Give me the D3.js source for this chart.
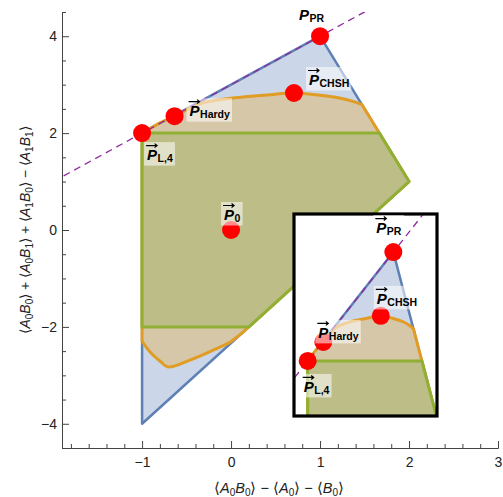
<!DOCTYPE html>
<html>
<head>
<meta charset="utf-8">
<script src="https://cdn.jsdelivr.net/npm/d3@7/dist/d3.min.js"></script>
<style>
  body { margin: 0; background: #fff; }
  svg { display: block; }
  text { font-family: "Liberation Sans", Arial, sans-serif; }
</style>
</head>
<body>
<svg width="503" height="497"></svg>
<script>
// no-signalling polytope corners
const nsX = [-1, -1, 1, 2];
const nsY = [-4, 2, 4, 1];
// local polytope corners
const locX = [-1, -1, 1.667, 2, 0.2];
const locY = [-2, 2, 2, 1, -2];
// quantum set boundary: curved top (left -> right)
const qTopX = [-1, -0.82, -0.635, -0.343, 0, 0.365, 0.707, 1.0, 1.23, 1.38, 1.47];
const qTopY = [2, 2.19, 2.35, 2.61, 2.72, 2.78, 2.828, 2.78, 2.72, 2.65, 2.59];
// straight stretch on the right
const qEdgeX = [2, 0.2];
const qEdgeY = [1, -2];
// curved bottom (right -> left)
const qBotX = [0.2, 0, -0.19, -0.455, -0.707, -0.79, -0.9, -1];
const qBotY = [-2, -2.3, -2.47, -2.68, -2.828, -2.72, -2.54, -2.3];
// dashed line through P_L,4 and P_PR
const dashX = [-2, 3];
const dashY = [1, 6];
// marked points
const ptNames = ["L,4", "Hardy", "0", "CHSH", "PR"];
const ptX = [-1, -0.635, 0, 0.707, 1];
const ptY = [2, 2.35, 0, 2.828, 4];
// ticks
const xTicks = [-1, 0, 1, 2, 3];
const yTicks = [-4, -2, 0, 2, 4];

const BLUE = "#5e81b5", ORANGE = "#e19c24", GREEN = "#8fb032";

const svg = d3.select("svg");

const x = d3.scaleLinear().domain([-1.9, 3]).range([62, 498]);
const y = d3.scaleLinear().domain([-4.5, 4.5]).range([448, 12]);

// inset zoom window
const xi = d3.scaleLinear().domain([-1.32, 2.02]).range([294, 437]);
const yi = d3.scaleLinear().domain([0.988, 4.70]).range([416, 214]);

// ----- axes -----
function styleAxis(g) {
  g.select(".domain").attr("stroke", "#444").attr("stroke-width", 1);
  g.selectAll(".tick line").attr("stroke", "#444");
  g.selectAll(".tick text").attr("fill", "#222").attr("font-size", 14)
    .attr("font-family", "Liberation Sans, Arial, sans-serif");
}

const minorX = d3.range(-18, 31, 2).map(d => d / 10).filter(d => !xTicks.includes(d));
const minorY = d3.range(-9, 10).map(d => d / 2).filter(d => !yTicks.includes(d));

svg.append("g").attr("transform", "translate(0,448)")
  .call(d3.axisBottom(x).tickValues(minorX).tickSize(-4).tickSizeOuter(0).tickFormat(""))
  .call(styleAxis);
svg.append("g").attr("transform", "translate(0,448)")
  .call(d3.axisBottom(x).tickValues(xTicks).tickSize(-7).tickSizeOuter(0).tickPadding(9).tickFormat(d3.format("d")))
  .call(styleAxis);
svg.append("g").attr("transform", "translate(62,0)")
  .call(d3.axisLeft(y).tickValues(minorY).tickSize(-4).tickSizeOuter(0).tickFormat(""))
  .call(styleAxis);
svg.append("g").attr("transform", "translate(62,0)")
  .call(d3.axisLeft(y).tickValues(yTicks).tickSize(-7).tickSizeOuter(0).tickPadding(5).tickFormat(d3.format("d")))
  .call(styleAxis);

// rich text helper: parts of [text, kind] where kind is "", "i" or "sub"
function mathText(sel, parts) {
  let shifted = false;
  parts.forEach(([t, k]) => {
    const s = sel.append("tspan").text(t);
    if (k === "i") s.attr("font-style", "italic");
    if (k === "sub") {
      s.attr("font-size", 10).attr("dy", shifted ? 0 : 3);
      shifted = true;
    } else if (shifted) {
      s.attr("dy", -3);
      shifted = false;
    }
  });
}

const ab = (a, i, b, j) => [["⟨", ""], [a, "i"], [i, "sub"], [b, "i"], [j, "sub"], ["⟩", ""]];

const xLab = svg.append("text").attr("x", 279).attr("y", 493)
  .attr("text-anchor", "middle").attr("font-size", 14.5).attr("fill", "#222");
mathText(xLab, [...ab("A", "0", "B", "0"), [" − ⟨", ""], ["A", "i"], ["0", "sub"], ["⟩ − ⟨", ""], ["B", "i"], ["0", "sub"], ["⟩", ""]]);

const yLab = svg.append("text").attr("transform", "translate(30,230) rotate(-90)")
  .attr("text-anchor", "middle").attr("font-size", 14).attr("fill", "#222");
mathText(yLab, [...ab("A", "0", "B", "0"), [" + ", ""], ...ab("A", "0", "B", "1"), [" + ", ""],
  ...ab("A", "1", "B", "0"), [" − ", ""], ...ab("A", "1", "B", "1")]);

// ----- scene -----
function quantumPath(sx, sy) {
  const ln = d3.line().x(d => sx(d[0])).y(d => sy(d[1])).curve(d3.curveCatmullRom.alpha(0.5));
  const top = ln(d3.zip(qTopX, qTopY));
  const edge = d3.zip(qEdgeX, qEdgeY).map(d => `L${sx(d[0])},${sy(d[1])}`).join("");
  const bot = ln(d3.zip(qBotX, qBotY)).replace(/^M/, "L");
  return top + edge + bot + "Z";
}

function drawScene(g, sx, sy, clipId) {
  const poly = d3.line().x(d => sx(d[0])).y(d => sy(d[1]));
  g.append("path").attr("d", poly(d3.zip(nsX, nsY)) + "Z")
    .attr("fill", "#cbd6e8").attr("stroke", BLUE).attr("stroke-width", 2.5).attr("stroke-linejoin", "round");
  g.append("path").attr("d", quantumPath(sx, sy))
    .attr("fill", "#d6c7a9").attr("stroke", ORANGE).attr("stroke-width", 3).attr("stroke-linejoin", "round");
  g.append("path").attr("d", poly(d3.zip(locX, locY)) + "Z")
    .attr("fill", "#bdbd88").attr("stroke", GREEN).attr("stroke-width", 3).attr("stroke-linejoin", "round");
  g.append("path").attr("d", poly(d3.zip(dashX, dashY)))
    .attr("clip-path", `url(#${clipId})`)
    .attr("fill", "none").attr("stroke", "#8e2a9e").attr("stroke-width", 1.3).attr("stroke-dasharray", "7,5");
}

function drawDots(g, sx, sy) {
  const [x0, x1] = sx.domain(), [y0, y1] = sy.domain();
  ptNames.forEach((nm, i) => {
    if (ptX[i] < x0 || ptX[i] > x1 || ptY[i] < y0 || ptY[i] > y1) return;
    g.append("circle").attr("cx", sx(ptX[i])).attr("cy", sy(ptY[i])).attr("r", 9).attr("fill", "#ff0000");
  });
}

function drawLabels(g, sx, sy, offs) {
  ptNames.forEach((nm, i) => {
    const o = offs[nm];
    if (!o) return;
    const lg = g.append("g").attr("transform", `translate(${sx(ptX[i]) + o[0]},${sy(ptY[i]) + o[1]})`);
    const bg = lg.append("rect");
    const t = lg.append("text").attr("fill", "#000");
    t.append("tspan").text("P").attr("font-weight", "bold").attr("font-style", "italic").attr("font-size", 15);
    t.append("tspan").text(nm).attr("font-weight", "bold").attr("font-size", 10.5).attr("dy", 2).attr("dx", 0.5);
    if (o[2] !== false) {
      lg.append("path").attr("d", "M-1,-14.5H10M7.5,-16.5L10,-14.5L7.5,-12.5")
        .attr("fill", "none").attr("stroke", "#000").attr("stroke-width", 1.2);
    }
    const b = lg.node().getBBox();
    bg.attr("x", b.x - 2).attr("y", b.y - 1.5).attr("width", b.width + 4).attr("height", b.height + 3)
      .attr("fill", "#fff").attr("fill-opacity", 0.55);
  });
}

const defs = svg.append("defs");
defs.append("clipPath").attr("id", "clipMain").append("rect")
  .attr("x", x(-1.9)).attr("y", y(4.5)).attr("width", x(3) - x(-1.9)).attr("height", y(-4.5) - y(4.5));
defs.append("clipPath").attr("id", "clipInset").append("rect")
  .attr("x", xi.range()[0]).attr("y", yi.range()[1])
  .attr("width", xi.range()[1] - xi.range()[0]).attr("height", yi.range()[0] - yi.range()[1]);

// main plot
const main = svg.append("g");
drawScene(main, x, y, "clipMain");
drawDots(main, x, y);
drawLabels(main, x, y, {
  "L,4": [5, 27], "Hardy": [15, 0], "0": [-7, -10], "CHSH": [15, -8], "PR": [-21, -16, false]
});

// inset
const inset = svg.append("g");
inset.append("rect").attr("x", xi.range()[0]).attr("y", yi.range()[1])
  .attr("width", xi.range()[1] - xi.range()[0]).attr("height", yi.range()[0] - yi.range()[1])
  .attr("fill", "#fff");
const insetBody = inset.append("g").attr("clip-path", "url(#clipInset)");
drawScene(insetBody, xi, yi, "clipInset");
drawDots(insetBody, xi, yi);
inset.append("rect").attr("x", xi.range()[0]).attr("y", yi.range()[1])
  .attr("width", xi.range()[1] - xi.range()[0]).attr("height", yi.range()[0] - yi.range()[1])
  .attr("fill", "none").attr("stroke", "#000").attr("stroke-width", 3.2);
drawLabels(inset, xi, yi, {
  "L,4": [-4, 31], "Hardy": [-5, -4], "CHSH": [-4, -12], "PR": [-17, -19]
});
</script>
</body>
</html>
